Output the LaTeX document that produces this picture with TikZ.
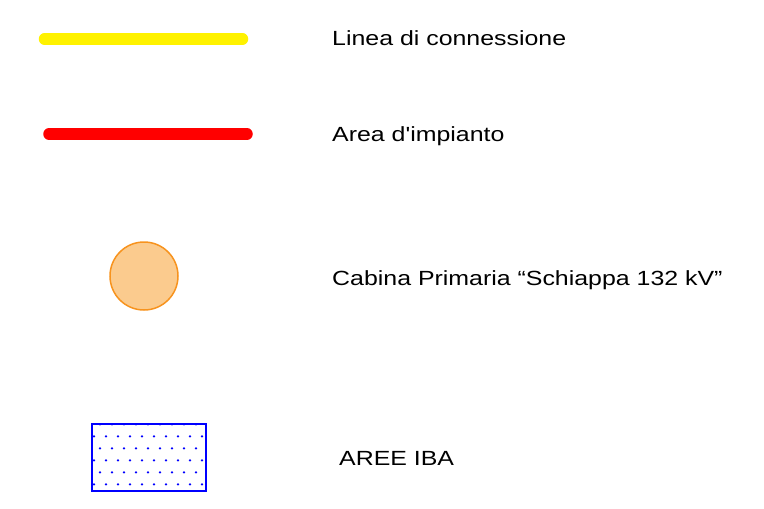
\documentclass[tikz,border=0pt]{standalone}
\usepackage{fontspec}
\setmainfont{Liberation Sans}
\newfontfamily\legendfont[FakeStretch=1.215,Ligatures=NoCommon]{Liberation Sans}
\begin{document}
\begin{tikzpicture}[x=1pt,y=-1pt,
  legendline/.style={line width=11.5pt,line cap=round},
  legendtext/.style={anchor=base west,inner sep=0pt,font=\legendfont\fontsize{20.5}{24}\selectfont},
  dotmark/.style={fill=blue,draw=none}]
\useasboundingbox (0,0) rectangle (764,509);
\coordinate (y1) at (44.5,39);
\coordinate (y2) at (242.5,39);
\draw[legendline,yellow] (y1) -- (y2);
\coordinate (r1) at (49,134);
\coordinate (r2) at (247,134);
\draw[legendline,red] (r1) -- (r2);
\node[circle,minimum size=68pt,inner sep=0pt,draw={rgb,255:red,247;green,147;blue,30},line width=1.5pt,fill={rgb,255:red,251;green,203;blue,142}] (cp) at (144,276) {};
\node[draw=blue,line width=2pt,minimum width=114pt,minimum height=67pt,inner sep=0pt] (iba) at (148.5,457.5) {};
\foreach \r in {0,...,5}{
  \pgfmathsetmacro{\yy}{424.3+12*\r}
  \pgfmathtruncatemacro{\odd}{mod(\r,2)}
  \ifnum\odd=0
    \foreach \c in {0,...,8}{\fill[dotmark] (100+12*\c,\yy) circle (1.3pt);}
  \else
    \foreach \c in {0,...,9}{\fill[dotmark] (94+12*\c,\yy) circle (1.3pt);}
  \fi
}
\node[legendtext] (t1) at (332,45.5) {Linea di connessione};
\node[legendtext] (t2) at (332,141) {Area d\symbol{39}impianto};
\node[legendtext] (t3) at (332,285.5) {Cabina Primaria “Schiappa 132 kV”};
\node[legendtext] (t4) at (339,465) {AREE IBA};
\end{tikzpicture}
\end{document}
